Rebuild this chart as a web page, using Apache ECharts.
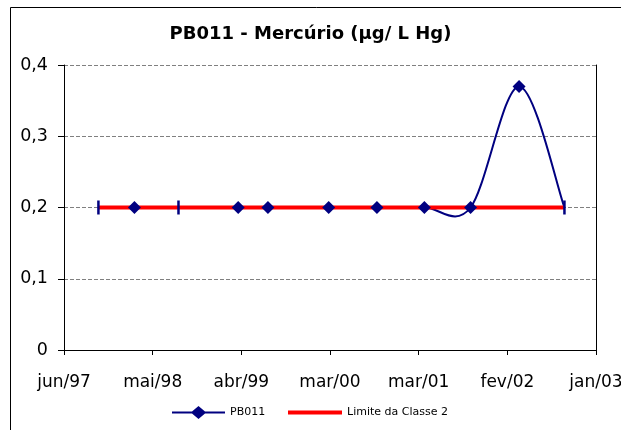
<!DOCTYPE html>
<html>
<head>
<meta charset="utf-8">
<script src="https://cdn.jsdelivr.net/npm/echarts@6/dist/echarts.min.js"></script>
<style>
html, body { margin: 0; padding: 0; background: #fff; }
#chart { width: 621px; height: 430px; }
</style>
</head>
<body>
<div id="chart"></div>
<script>
// inicio do eixo x e passo entre os ticks (dias)
const axisStart = '1997-06-10'
const dayStep = 340

// datas das coletas
const sampleDates = [
  '1997-10-20', '1998-03-07', '1998-08-23', '1999-04-09', '1999-08-01', '2000-03-21',
  '2000-09-22', '2001-03-23', '2001-09-16', '2002-03-21', '2002-09-11'
]
const pb011 = [0.2, 0.2, 0.2, 0.2, 0.2, 0.2, 0.2, 0.2, 0.2, 0.37, 0.2]
const limiteClasse2 = [0.2, 0.2, 0.2, 0.2, 0.2, 0.2, 0.2, 0.2, 0.2, 0.2, 0.2]

const xTickLabels = ['jun/97', 'mai/98', 'abr/99', 'mar/00', 'mar/01', 'fev/02', 'jan/03']
const yTickLabels = ['0', '0,1', '0,2', '0,3', '0,4']

const navy = '#000080'
const red = '#FF0000'
const labelFont = 'DejaVu Sans'

// pontos marcados com barra vertical em vez de losango
const barPoints = [0, 2, 10]

const dayOffset = d => Math.round((Date.parse(d) - Date.parse(axisStart)) / 86400000)

const pbData = sampleDates.map((d, i) => [dayOffset(d), pb011[i]])
const limData = sampleDates.map((d, i) => [dayOffset(d), limiteClasse2[i]])
const markerData = pbData.map((p, i) => barPoints.includes(i)
  ? { value: p, symbol: 'rect', symbolSize: [2.5, 14] }
  : { value: p })

// curva suavizada no estilo do Excel (bezier com pontos de controle a 1/6 dos vizinhos)
const renderSmoothSegment = (params, api) => {
  const i = params.dataIndex
  const n = pbData.length
  if (i >= n - 1) return null
  const pt = k => api.coord(pbData[Math.max(0, Math.min(n - 1, k))])
  const p0 = pt(i - 1), p1 = pt(i), p2 = pt(i + 1), p3 = pt(i + 2)
  return {
    type: 'bezierCurve',
    shape: {
      x1: p1[0], y1: p1[1],
      x2: p2[0], y2: p2[1],
      cpx1: p1[0] + (p2[0] - p0[0]) / 6,
      cpy1: p1[1] + (p2[1] - p0[1]) / 6,
      cpx2: p2[0] - (p3[0] - p1[0]) / 6,
      cpy2: p2[1] - (p3[1] - p1[1]) / 6
    },
    style: { stroke: navy, lineWidth: 2, fill: null }
  }
}

const chart = echarts.init(document.getElementById('chart'))

const option = {
  animation: false,
  title: {
    text: 'PB011 - Mercúrio (µg/ L Hg)',
    left: 'center',
    top: 20,
    textStyle: {
      fontFamily: 'DejaVu Sans',
      fontWeight: 'bold',
      fontSize: 18,
      color: '#000'
    }
  },
  legend: [
    {
      data: [{ name: 'PB011', icon: 'path://M0,5.5H20L26.5,0L33,5.5H53V7.5H33L26.5,13L20,7.5H0Z' }],
      left: 167,
      top: 401,
      itemWidth: 53,
      itemHeight: 13,
      textStyle: { fontFamily: labelFont, fontSize: 11, color: '#000' }
    },
    {
      data: [{ name: 'Limite da Classe 2', icon: 'rect' }],
      left: 283,
      top: 401,
      itemWidth: 54,
      itemHeight: 4,
      textStyle: { fontFamily: labelFont, fontSize: 11, color: '#000', lineHeight: 13 }
    }
  ],
  grid: {
    left: 64,
    right: 25,
    top: 65,
    bottom: 80,
    outerBoundsMode: 'none'
  },
  xAxis: {
    type: 'value',
    min: 0,
    max: dayStep * (xTickLabels.length - 1),
    interval: dayStep,
    axisLine: { show: true, onZero: false, lineStyle: { color: '#000', width: 1 } },
    axisTick: { show: true, length: 5, lineStyle: { color: '#000' } },
    axisLabel: {
      margin: 24,
      fontFamily: labelFont,
      fontSize: 17,
      color: '#000',
      formatter: v => xTickLabels[Math.round(v / dayStep)] || ''
    },
    splitLine: { show: false }
  },
  yAxis: [
    {
      type: 'value',
      min: 0,
      max: 0.4,
      interval: 0.1,
      axisLine: { show: true, lineStyle: { color: '#000', width: 1 } },
      axisTick: { show: true, length: 6, lineStyle: { color: '#000' } },
      axisLabel: {
        margin: 16,
        fontFamily: labelFont,
        fontSize: 17.5,
        color: '#000',
        formatter: v => yTickLabels[Math.round(v * 10)] || ''
      },
      splitLine: { show: true, lineStyle: { color: '#808080', type: [4, 2], width: 1 } }
    },
    {
      type: 'value',
      position: 'right',
      min: 0,
      max: 0.4,
      interval: 0.1,
      axisLine: { show: true, lineStyle: { color: '#000', width: 1 } },
      axisTick: { show: false },
      axisLabel: { show: false },
      splitLine: { show: false }
    }
  ],
  series: [
    {
      name: 'PB011',
      type: 'custom',
      data: pbData,
      encode: { x: 0, y: 1 },
      renderItem: renderSmoothSegment,
      z: 2,
      itemStyle: { color: navy }
    },
    {
      name: 'Limite da Classe 2',
      type: 'line',
      data: limData,
      z: 3,
      symbol: 'none',
      lineStyle: { color: red, width: 4 },
      itemStyle: { color: red }
    },
    {
      // marcadores por cima da linha vermelha
      name: 'PB011',
      type: 'scatter',
      data: markerData,
      z: 4,
      symbol: 'diamond',
      symbolSize: 13,
      itemStyle: { color: navy, opacity: 1 }
    }
  ],
  graphic: [
    {
      type: 'rect',
      shape: { x: 10.5, y: 7.5, width: 700, height: 500 },
      style: { fill: 'none', stroke: '#000', lineWidth: 1 },
      silent: true
    }
  ]
}

chart.setOption(option)
</script>
</body>
</html>
